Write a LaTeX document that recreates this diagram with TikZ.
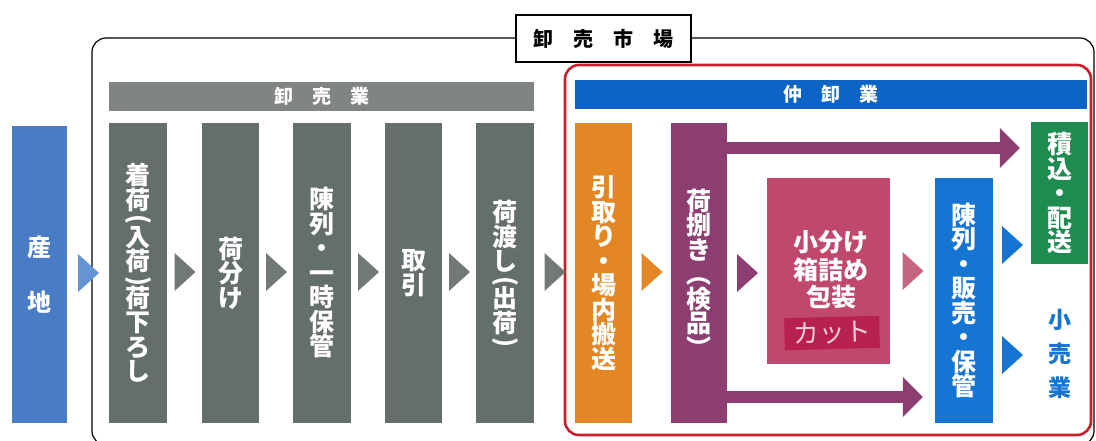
\documentclass[tikz,border=0pt]{standalone}
\usepackage{fontspec}
\usepackage{graphicx}
\newfontfamily\jp{Noto Sans CJK JP}
\usetikzlibrary{arrows.meta,calc}
\definecolor{sanc}{RGB}{74,124,198}
\definecolor{santri}{RGB}{100,148,212}
\definecolor{gbox}{RGB}{100,110,107}
\definecolor{gband}{RGB}{128,133,131}
\definecolor{gtri}{RGB}{112,121,119}
\definecolor{orc}{RGB}{226,135,36}
\definecolor{purc}{RGB}{140,62,112}
\definecolor{pinkc}{RGB}{192,72,108}
\definecolor{pinktri}{RGB}{196,102,128}
\definecolor{cutc}{RGB}{184,32,78}
\definecolor{cuttext}{RGB}{246,206,216}
\definecolor{bluc}{RGB}{22,116,210}
\definecolor{bband}{RGB}{14,100,196}
\definecolor{grnc}{RGB}{30,140,80}
\definecolor{redc}{RGB}{200,32,42}
\tikzset{
  col/.style={fill=#1, text=white, inner sep=0pt, align=center,
    font=\jp\bfseries\fontsize{25}{24.5}\selectfont},
  coltext/.style={text=white, inner sep=0pt, align=center,
    font=\jp\bfseries\fontsize{25}{24.5}\selectfont},
  band/.style={fill=#1, text=white, inner sep=0pt,
    font=\jp\bfseries\fontsize{19}{19}\selectfont},
}
\newcommand\vlp{\raisebox{0pt}[22pt][3pt]{\rotatebox[origin=c]{-90}{(}}}
\newcommand\vrp{\raisebox{0pt}[22pt][3pt]{\rotatebox[origin=c]{-90}{)}}}
\newcommand\chev[4]{%
  \fill[#1] let \p1=($(#2.east)!0.5!(#3.west)$) in
    (\x1-10pt,-#4pt+19pt) -- (\x1+11pt,-#4pt) -- (\x1-10pt,-#4pt-19pt) -- cycle;}
\begin{document}
\begin{tikzpicture}[x=1pt,y=-1pt]
\useasboundingbox (0,0) rectangle (1096,441);
\clip (0,0) rectangle (1096,441);
% outer market frame
\draw[line width=1.2pt, rounded corners=14pt] (92,38) rectangle (1094,445);
\node[draw, line width=1.1pt, fill=white, minimum width=175pt, minimum height=47pt,
  inner sep=0pt, font=\jp\bfseries\fontsize{20}{20}\selectfont] (title) at (603.5,38.5) {卸　売　市　場};
% red frame
\draw[redc, line width=2.6pt, rounded corners=14pt, fill=white] (565,65) rectangle (1091,435);
% bands
\node[band=gband, minimum width=425pt, minimum height=29pt] (wband) at (321.5,96.5) {卸　売　業};
\node[band=bband, minimum width=512pt, minimum height=29pt] (nband) at (831,94.5) {仲　卸　業};
% producing area
\node[col=sanc, minimum width=55pt, minimum height=297pt, font=\jp\bfseries\fontsize{24}{55}\selectfont] (san) at (39.5,274.5) {産\\地};
% wholesale columns
\node[col=gbox, minimum width=58pt, minimum height=300pt] (g1) at (138,273)
  {着\\荷\\[-6.1pt]\vlp\\[-6.1pt]入\\荷\\[-6.1pt]\vrp\\[-6.1pt]荷\\下\\ろ\\し};
\node[col=gbox, minimum width=57pt, minimum height=300pt] (g2) at (230.5,273) {荷\\分\\け};
\node[col=gbox, minimum width=58pt, minimum height=300pt] (g3) at (322,273) {陳\\列\\・\\一\\時\\保\\管};
\node[col=gbox, minimum width=57pt, minimum height=300pt] (g4) at (413.5,273) {取\\引};
\node[col=gbox, minimum width=58pt, minimum height=300pt] (g5) at (505,273) {};
\node[coltext] (g5t) at (505,277)
  {荷\\渡\\し\\[-6.1pt]\vlp\\[-6.1pt]出\\荷\\[-6.1pt]\vrp};
% intermediate wholesale
\node[col=orc, minimum width=57pt, minimum height=300pt] (ora) at (603.5,273) {引\\取\\り\\・\\場\\内\\搬\\送};
\node[col=purc, minimum width=56pt, minimum height=300pt] (pur) at (699,273) {荷\\捌\\き\\︵\\検\\品\\︶};
\node[fill=pinkc, minimum width=123pt, minimum height=186pt, inner sep=0pt] (pink) at (828.5,271) {};
\node[text=white, align=center, inner sep=0pt, font=\jp\bfseries\fontsize{25}{27.5}\selectfont] (pinktxt) at (831,270) {小分け\\箱詰め\\包装};
\node[fill=cutc, text=cuttext, minimum width=95pt, minimum height=32pt, inner sep=0pt, rotate=1.5,
  font=\jp\fontsize{26}{26}\selectfont] (cut) at (832,333) {カット};
\node[col=bluc, minimum width=58pt, minimum height=245pt] (blu) at (964,300.5) {陳\\列\\・\\販\\売\\・\\保\\管};
\node[col=grnc, minimum width=57pt, minimum height=142pt] (grn) at (1059.5,193) {積\\込\\・\\配\\送};
\node[text=bluc, align=center, inner sep=0pt, font=\jp\bfseries\fontsize{23}{34}\selectfont] (kouri) at (1060,354) {小\\売\\業};
% chevrons
\chev{santri}{san}{g1}{273}
\chev{gtri}{g1}{g2}{272}
\chev{gtri}{g2}{g3}{272}
\chev{gtri}{g3}{g4}{272}
\chev{gtri}{g4}{g5}{272}
\chev{gtri}{g5}{ora}{272}
\chev{orc}{ora}{pur}{272}
\chev{purc}{pur}{pink}{273}
\chev{pinktri}{pink}{blu}{271}
\chev{bluc}{blu}{grn}{245}
\chev{bluc}{blu}{grn}{355}
% purple arrows
\draw[purc, line width=12pt, -{Triangle[length=20pt,width=39pt]}]
  let \p1=(pur.east), \p2=(grn.west) in (\x1-1pt,-148pt) -- (\x2-11pt,-148pt);
\draw[purc, line width=12pt, -{Triangle[length=20pt,width=39pt]}]
  let \p1=(pur.east), \p2=(blu.west) in (\x1-1pt,-397pt) -- (\x2-12pt,-397pt);
\end{tikzpicture}
\end{document}
